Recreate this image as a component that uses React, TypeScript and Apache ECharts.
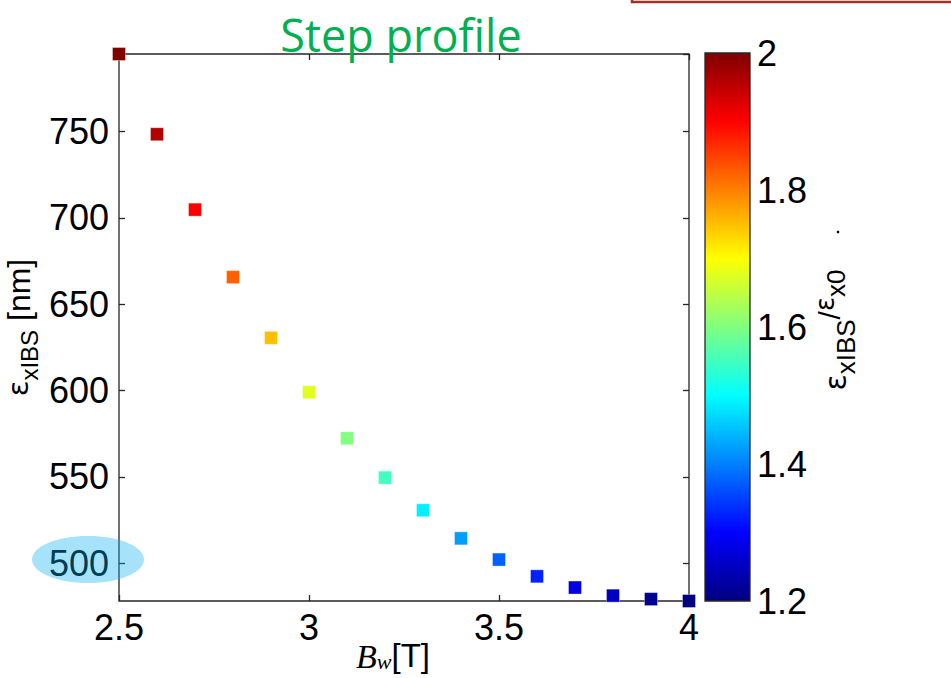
import React, { useEffect, useRef } from "react";
import * as echarts from "echarts";

// ---- data ----
const bwValues = [2.5, 2.6, 2.7, 2.8, 2.9, 3.0, 3.1, 3.2, 3.3, 3.4, 3.5, 3.6, 3.7, 3.8, 3.9, 4.0];
const emittance = [795, 748.5, 704.8, 665.7, 630.5, 599, 572.3, 549.5, 530.6, 514.3, 502, 492.3, 485.8, 481.1, 479.1, 478];
const emitRatio = [2.0, 1.96, 1.9, 1.825, 1.75, 1.676, 1.6, 1.55, 1.488, 1.424, 1.376, 1.325, 1.276, 1.25, 1.213, 1.2];

const xRange = [2.5, 4.0];
const xInterval = 0.5;
const yRange = [478, 795];
const yStep = 50;
const cbRange = [1.2, 2.0];
const cbInterval = 0.2;

const jetColors = [
  "#000080", "#0000ff", "#0080ff", "#00ffff", "#80ff80",
  "#ffff00", "#ff8000", "#ff0000", "#800000",
];

const titleText = "Step profile";
const AX = "#262626";
const SANS = "Liberation Sans";

export default function App() {
  const ref = useRef<HTMLDivElement>(null);

  useEffect(() => {
    if (!ref.current) return;
    const chart = echarts.init(ref.current, undefined, { renderer: "svg" });

    const tickLabel = { fontFamily: SANS, fontSize: 36, color: "#000" };
    const fmt = (v: number) => String(Math.round(v * 10) / 10);

    const option: any = {
      animation: false,
      backgroundColor: "#fff",
      grid: [
        { left: 119, top: 54, width: 570, height: 547, show: true, borderColor: AX, borderWidth: 1.3, backgroundColor: "transparent", containLabel: false, outerBoundsMode: "none" },
        { left: 705, top: 53, width: 45, height: 548, show: false, containLabel: false, outerBoundsMode: "none" },
      ],
      visualMap: [
        { type: "continuous", show: false, seriesIndex: 0, dimension: 2, min: cbRange[0], max: cbRange[1], inRange: { color: jetColors } },
      ],
      xAxis: [
        {
          gridIndex: 0, type: "value", min: xRange[0], max: xRange[1], interval: xInterval, position: "bottom",
          axisLine: { show: false }, splitLine: { show: false },
          axisTick: { inside: true, length: 6, lineStyle: { color: AX, width: 1.3 } },
          axisLabel: { ...tickLabel, margin: 8, formatter: fmt },
          name: "{b|B}{w|w}{t|[T]}", nameLocation: "middle", nameGap: 38, nameMoveOverlap: false,
          nameTextStyle: {
            padding: [0, 22, 0, 0],
            rich: {
              b: { fontFamily: "Liberation Serif", fontStyle: "italic", fontSize: 34, color: "#000", lineHeight: 32, verticalAlign: "top" },
              w: { fontFamily: "Liberation Serif", fontStyle: "italic", fontSize: 22, color: "#000", lineHeight: 20, padding: [11, 0, 0, 0], verticalAlign: "top" },
              t: { fontFamily: SANS, fontSize: 33, color: "#000", lineHeight: 32, verticalAlign: "top" },
            },
          },
        },
        {
          gridIndex: 0, type: "value", min: xRange[0], max: xRange[1], interval: xInterval, position: "top",
          axisLine: { show: false }, splitLine: { show: false }, axisLabel: { show: false },
          axisTick: { inside: true, length: 6, lineStyle: { color: AX, width: 1.3 } },
        },
        { gridIndex: 1, type: "category", data: ["cb"], show: false },
      ],
      yAxis: [
        {
          gridIndex: 0, type: "value", min: yRange[0], max: yRange[1], minInterval: yStep, maxInterval: yStep, position: "left",
          axisLine: { show: false }, splitLine: { show: false },
          axisTick: { inside: true, length: 6, lineStyle: { color: AX, width: 1.3 } },
          axisLabel: { ...tickLabel, margin: 10, showMinLabel: false, showMaxLabel: false, formatter: (v: number) => String(v) },
          name: "{e|ε}{s|xIBS}{n| [nm]}", nameLocation: "middle", nameRotate: 90, nameGap: 85, nameMoveOverlap: false,
          nameTextStyle: {
            rich: {
              e: { fontFamily: "DejaVu Sans", fontSize: 29, color: "#000", lineHeight: 31, verticalAlign: "top" },
              s: { fontFamily: SANS, fontSize: 24, color: "#000", lineHeight: 24, padding: [14, 0, 0, 0], verticalAlign: "top" },
              n: { fontFamily: SANS, fontSize: 32, color: "#000", lineHeight: 31, verticalAlign: "top" },
            },
          },
        },
        {
          gridIndex: 0, type: "value", min: yRange[0], max: yRange[1], minInterval: yStep, maxInterval: yStep, position: "right",
          axisLine: { show: false }, splitLine: { show: false }, axisLabel: { show: false },
          axisTick: { inside: true, length: 6, lineStyle: { color: AX, width: 1.3 } },
        },
        {
          gridIndex: 1, type: "value", min: cbRange[0], max: cbRange[1], interval: cbInterval, position: "right", z: 10,
          axisLine: { show: false }, splitLine: { show: false },
          axisTick: { inside: true, length: 5, lineStyle: { color: AX, width: 1.3 } },
          axisLabel: { ...tickLabel, margin: 7, formatter: fmt },
        },
        {
          gridIndex: 1, type: "value", min: cbRange[0], max: cbRange[1], interval: cbInterval, position: "left", z: 10,
          axisLine: { show: false }, splitLine: { show: false }, axisLabel: { show: false },
          axisTick: { inside: true, length: 5, lineStyle: { color: AX, width: 1.3 } },
        },
      ],
      series: [
        {
          type: "scatter", xAxisIndex: 0, yAxisIndex: 0, clip: false, z: 5,
          symbol: "rect", symbolSize: 13,
          itemStyle: { borderColor: "rgba(255,255,255,0.35)", borderWidth: 1, opacity: 1 },
          data: bwValues.map((x, i) => [x, emittance[i], emitRatio[i]]),
        },
        {
          type: "custom", xAxisIndex: 2, yAxisIndex: 2, z: 2, silent: true,
          data: [[0, cbRange[0], cbRange[1]]],
          renderItem: (params: any, api: any) => {
            const top = api.coord([api.value(0), api.value(2)]);
            const bot = api.coord([api.value(0), api.value(1)]);
            const w = api.size([1, 0])[0];
            return {
              type: "rect",
              shape: { x: top[0] - w / 2, y: top[1], width: w, height: bot[1] - top[1] },
              style: {
                fill: new echarts.graphic.LinearGradient(0, 1, 0, 0,
                  jetColors.map((c, i) => ({ offset: i / (jetColors.length - 1), color: c }))),
                stroke: AX, lineWidth: 1.3,
              },
            };
          },
        },
      ],
      graphic: [
        {
          type: "text", x: 401, y: 34, z: 20,
          style: { text: titleText, fontFamily: "Open Sans", fontSize: 45, fill: "#00b050", align: "center", verticalAlign: "middle" },
        },
        {
          type: "text", x: 827, y: 330, rotation: Math.PI / 2, z: 20,
          style: {
            text: "{e|ε}{s|xIBS}{sl|/}{e2|ε}{s2|x0}", align: "center", verticalAlign: "middle",
            rich: {
              e: { fontFamily: "DejaVu Sans", fontSize: 30, fill: "#000", lineHeight: 30, padding: [8, 0, 0, 0], verticalAlign: "top" },
              s: { fontFamily: SANS, fontSize: 26, fill: "#000", lineHeight: 26, padding: [21, 0, 0, 0], verticalAlign: "top" },
              sl: { fontFamily: SANS, fontSize: 30, fill: "#000", lineHeight: 30, padding: [2, 0, 0, 0], verticalAlign: "top" },
              e2: { fontFamily: "DejaVu Sans", fontSize: 26, fill: "#000", lineHeight: 26, padding: [0, 0, 0, 0], verticalAlign: "top" },
              s2: { fontFamily: SANS, fontSize: 26, fill: "#000", lineHeight: 26, padding: [11, 0, 0, 0], verticalAlign: "top" },
            },
          },
        },
        {
          type: "rect", z: 20,
          shape: { x: 632, y: -20, width: 340, height: 22 },
          style: { fill: "#fff", stroke: "#a0302a", lineWidth: 2.5 },
        },
        {
          type: "ellipse", z: 30,
          shape: { cx: 88, cy: 559.5, rx: 56, ry: 23.5 },
          style: { fill: "rgba(0,176,240,0.35)" },
        },
        {
          type: "circle", z: 20,
          shape: { cx: 838, cy: 232, r: 1.3 },
          style: { fill: "#000" },
        },
      ],
    };

    chart.setOption(option);
    return () => chart.dispose();
  }, []);

  return <div ref={ref} style={{ position: "fixed", left: 0, top: 0, width: 951, height: 678 }} />;
}
